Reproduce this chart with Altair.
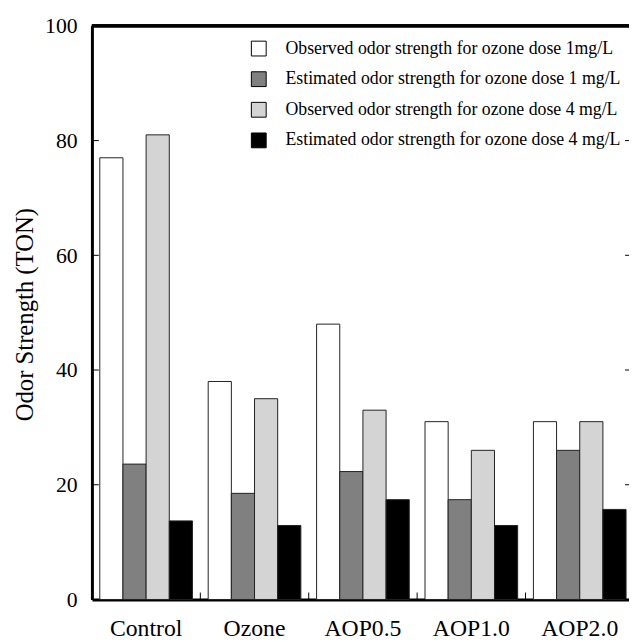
import altair as alt
import pandas as pd

categories = ["Control", "Ozone", "AOP0.5", "AOP1.0", "AOP2.0"]
series = [
    "Observed odor strength for ozone dose 1mg/L",
    "Estimated odor strength for ozone dose 1 mg/L",
    "Observed odor strength for ozone dose 4 mg/L",
    "Estimated odor strength for ozone dose 4 mg/L",
]
obs1 = [77, 38, 48, 31, 31]
est1 = [23.6, 18.5, 22.3, 17.4, 26]
obs4 = [81, 35, 33, 26, 31]
est4 = [13.7, 12.9, 17.4, 12.9, 15.7]
y_ticks = [0, 20, 40, 60, 80, 100]
colors = ["#ffffff", "#808080", "#d4d4d4", "#000000"]

rows = []
for s, vals in zip(series, [obs1, est1, obs4, est4]):
    for c, v in zip(categories, vals):
        rows.append({"cat": c, "series": s, "value": v})
df = pd.DataFrame(rows)
ticks_df = pd.DataFrame({"v": y_ticks})
cat_df = pd.DataFrame({"cat": categories})

FONT = "Liberation Serif"
PLOT_W = 549
x_scale = alt.Scale(domain=categories, range=[0, PLOT_W], paddingInner=0, paddingOuter=0)
y_scale = alt.Scale(domain=[0, 100], nice=False)

x_axis = alt.Axis(title=None, labelAngle=0, ticks=False, domainWidth=3,
                  domainColor="black", labelFont=FONT, labelFontSize=24,
                  labelColor="black", labelPadding=18)
y_axis = alt.Axis(values=y_ticks, ticks=False, grid=False, domainWidth=3,
                  domainColor="black", labelFont=FONT, labelFontSize=22,
                  labelColor="black", labelPadding=15,
                  title="Odor Strength (TON)", titleFont=FONT,
                  titleFontSize=25, titleFontWeight="normal",
                  titleColor="#000000", titleAngle=270, titleX=-68, titleY=292,
                  titleAlign="center", titleBaseline="middle")

bars = alt.Chart(df).mark_bar(stroke="#222222", strokeWidth=1).encode(
    x=alt.X("cat:N", scale=x_scale, sort=categories, axis=x_axis),
    xOffset=alt.XOffset("series:N", sort=series,
                        scale=alt.Scale(domain=series, paddingInner=0, paddingOuter=0.34)),
    y=alt.Y("value:Q", scale=y_scale, axis=y_axis),
    fill=alt.Fill("series:N", sort=series,
                  scale=alt.Scale(domain=series, range=colors),
                  legend=alt.Legend(orient="none", legendX=160, legendY=14, title=None,
                                    symbolType="square", symbolSize=225,
                                    symbolStrokeColor="black", symbolStrokeWidth=1,
                                    symbolOpacity=1,
                                    labelFont=FONT, labelFontSize=18, labelColor="black",
                                    labelOffset=18, rowPadding=11, labelLimit=600,
                                    padding=0)),
)

left_ticks = alt.Chart(ticks_df).mark_rule(color="black", strokeWidth=1).encode(
    y=alt.Y("v:Q", scale=y_scale, axis=y_axis),
    x=alt.value(0), x2=alt.value(7),
)
right_ticks = alt.Chart(ticks_df).mark_rule(color="black", strokeWidth=1).encode(
    y=alt.Y("v:Q", scale=y_scale, axis=y_axis),
    x=alt.value(PLOT_W - 9), x2=alt.value(PLOT_W),
)
bottom_ticks = alt.Chart(cat_df).mark_rule(color="black", strokeWidth=1).encode(
    x=alt.X("cat:N", scale=x_scale, sort=categories, bandPosition=0, axis=x_axis),
    y=alt.value(581), y2=alt.value(574),
)
top_border = alt.Chart(cat_df).mark_rule(color="black", strokeWidth=3).encode(
    x=alt.value(0), x2=alt.value(PLOT_W), y=alt.value(0),
)

chart = alt.layer(bars, left_ticks, right_ticks, bottom_ticks, top_border).properties(
    width=544, height=581,
    autosize=alt.AutoSizeParams(type="none"),
    padding={"left": 85, "top": 14, "right": 0, "bottom": 40},
    background="white",
).configure_view(stroke=None).configure_axis(titleColor="#000000")

chart.save("out.html", embed_options={"renderer": "svg", "actions": False})
